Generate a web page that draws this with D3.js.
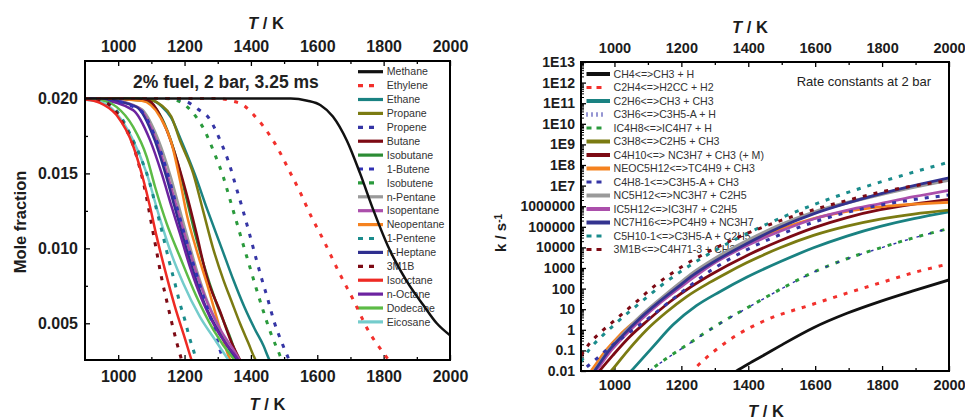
<!DOCTYPE html>
<html>
<head>
<meta charset="utf-8">
<script src="https://cdn.jsdelivr.net/npm/d3@7"></script>
<style>
  body { margin: 0; background: #fff; }
  svg { display: block; font-family: "Liberation Sans", Arial, Helvetica, sans-serif; white-space: pre; }
</style>
</head>
<body>
<svg id="chart" width="965" height="418"></svg>
<script>
// ---------- Left panel: fuel mole fraction vs. temperature ----------
const fuelNames = ["Methane", "Ethylene", "Ethane", "Propane", "Propene", "Butane", "Isobutane",
  "1-Butene", "Isobutene", "n-Pentane", "Isopentane", "Neopentane", "1-Pentene", "n-Heptane",
  "3M1B", "Isooctane", "n-Octane", "Dodecane", "Eicosane"];

// [T / K, mole fraction]
const methane    = [[900,.0200],[1520,.0200],[1570,.01985],[1610,.01955],[1647,.0188],[1689,.0172],[1729,.0150],[1770,.0125],[1816,.0100],[1870,.0078],[1920,.0062],[1960,.0050],[2000,.0042]];
const ethylene   = [[900,.0200],[1300,.0200],[1342,.01984],[1377,.01956],[1409,.01889],[1437,.01816],[1481,.01667],[1516,.01516],[1550,.01367],[1581,.01216],[1616,.01067],[1666,.00838],[1710,.0065],[1753,.00455],[1800,.0030],[1820,.0024]];
const ethane     = [[900,.0200],[1060,.0200],[1100,.0199],[1130,.0195],[1160,.0187],[1188,.0173],[1230,.0150],[1270,.0125],[1312,.0100],[1347,.0079],[1380,.0061],[1412,.0046],[1438,.0035],[1455,.0026],[1463,.0023]];
const propane    = [[900,.0200],[1060,.0200],[1100,.0199],[1130,.01955],[1160,.0188],[1186,.0172],[1226,.0150],[1256,.0125],[1286,.0100],[1317,.0079],[1341,.0065],[1367,.0050],[1392,.0037],[1413,.0026],[1421,.0023]];
const propene    = [[900,.0200],[1170,.0200],[1208,.01978],[1240,.0193],[1274,.01867],[1309,.01711],[1335,.01562],[1355,.01411],[1375,.01262],[1394,.01111],[1412,.00962],[1430,.00816],[1450,.00667],[1470,.00511],[1496,.00356],[1510,.00282],[1518,.0024]];
const butane     = [[900,.0200],[945,.0200],[1086,.01989],[1146,.01789],[1186,.01522],[1211,.01322],[1236,.0110],[1267,.0081],[1307,.0058],[1340,.0038],[1367,.00256],[1375,.0022]];
const isobutane  = [[900,.0200],[945,.0200],[1080,.01985],[1140,.0183],[1178,.0158],[1203,.0136],[1228,.0113],[1258,.0089],[1295,.0064],[1335,.0042],[1360,.0027],[1368,.0023]];
const butene1    = [[900,.0200],[945,.01998],[1066,.01922],[1111,.01744],[1146,.01522],[1171,.01322],[1196,.01122],[1226,.0090],[1257,.00678],[1287,.00478],[1307,.00322],[1317,.00256],[1322,.0022]];
const isobutene  = [[900,.0200],[1140,.0200],[1174,.01989],[1208,.01944],[1238,.01867],[1259,.01793],[1275,.01716],[1289,.0164],[1302,.01567],[1315,.01489],[1335,.0134],[1355,.01189],[1375,.01038],[1395,.00889],[1415,.0074],[1437,.00584],[1460,.00433],[1488,.00282],[1495,.0024]];
const nPentane   = [[900,.0200],[970,.01995],[1070,.0193],[1122,.0172],[1158,.0148],[1183,.0128],[1208,.0108],[1236,.0086],[1270,.0064],[1305,.0047],[1350,.0027],[1360,.0023]];
const isopentane = [[900,.0200],[960,.01995],[1060,.0194],[1115,.0172],[1150,.0148],[1176,.0128],[1202,.0108],[1232,.0086],[1268,.0064],[1305,.0047],[1365,.0026],[1372,.0023]];
const neopentane = [[900,.0200],[945,.0200],[1071,.01984],[1126,.01878],[1161,.0170],[1186,.01456],[1206,.01233],[1236,.00989],[1267,.00767],[1302,.0050],[1337,.00256],[1345,.0022]];
const pentene1   = [[900,.0200],[945,.01989],[1005,.01889],[1040,.01744],[1073,.01578],[1094,.01444],[1111,.0130],[1131,.01122],[1154,.00911],[1171,.00767],[1186,.00633],[1201,.00522],[1214,.00411],[1231,.00289],[1237,.0024]];
const nHeptane   = [[900,.0200],[955,.01995],[1055,.01944],[1110,.01722],[1145,.01478],[1170,.01278],[1195,.01078],[1225,.00856],[1260,.00633],[1300,.00456],[1355,.00256],[1365,.0022]];
const m3b1       = [[900,.0200],[945,.01989],[985,.01933],[1020,.01811],[1045,.01689],[1060,.01578],[1073,.01467],[1085,.01344],[1100,.01167],[1115,.00989],[1130,.00811],[1148,.00633],[1162,.0050],[1177,.00367],[1191,.00256],[1198,.0020]];
const isooctane  = [[900,.01993],[945,.01971],[995,.01889],[1046,.01678],[1076,.01456],[1096,.01278],[1116,.01078],[1141,.00856],[1171,.00611],[1201,.0040],[1221,.00256],[1230,.0020]];
const nOctane    = [[900,.01998],[945,.01993],[1045,.01922],[1096,.01722],[1131,.0150],[1161,.01278],[1186,.0110],[1216,.00878],[1257,.00633],[1297,.00456],[1362,.00256],[1370,.0023]];
const dodecane   = [[900,.01996],[945,.01989],[995,.01944],[1045,.01811],[1086,.01611],[1111,.01411],[1146,.01167],[1186,.00944],[1236,.00678],[1287,.00456],[1350,.00256],[1360,.0023]];
const eicosane   = [[900,.01992],[945,.01978],[995,.0190],[1040,.01744],[1086,.0150],[1121,.01233],[1156,.00989],[1196,.00767],[1246,.00544],[1292,.00389],[1332,.00256],[1340,.0023]];

const fuelSeries = [methane, ethylene, ethane, propane, propene, butane, isobutane, butene1, isobutene,
  nPentane, isopentane, neopentane, pentene1, nHeptane, m3b1, isooctane, nOctane, dodecane, eicosane];

const fractionTicks = [0.005, 0.010, 0.015, 0.020];
const fractionTickLabels = ["0.005", "0.010", "0.015", "0.020"];
const fractionMinorTicks = [0.0075, 0.0125, 0.0175];
const tempTicks = [1000, 1200, 1400, 1600, 1800, 2000];
const tempTickLabels = ["1000", "1200", "1400", "1600", "1800", "2000"];
const tempMinorTicks = [1100, 1300, 1500, 1700, 1900];

// ---------- Right panel: rate constants at 2 bar ----------
const reactionNames = ["CH4<=>CH3 + H", "C2H4<=>H2CC + H2", "C2H6<=>CH3 + CH3", "C3H6<=>C3H5-A + H",
  "IC4H8<=>IC4H7 + H", "C3H8<=>C2H5 + CH3", "C4H10<=> NC3H7 + CH3 (+ M)", "NEOC5H12<=>TC4H9 + CH3",
  "C4H8-1<=>C3H5-A  + CH3", "NC5H12<=>NC3H7 + C2H5", "IC5H12<=>IC3H7 + C2H5", "NC7H16<=>PC4H9 + NC3H7",
  "C5H10-1<=>C3H5-A + C2H5", "3M1B<=>C4H71-3 + CH3"];

// [T / K, k / s^-1]
const kCH4     = [[1355,0.0079],[1365,0.01],[1400,0.0219],[1450,0.0631],[1495,0.166],[1595,1.26],[1695,6.31],[1795,24],[1895,79.4],[2000,263]];
const kC2H4    = [[1225,0.0071],[1235,0.0107],[1295,0.083],[1365,0.54],[1445,2.6],[1595,17.8],[1695,60],[1805,214],[1900,630],[2000,1580]];
const kC2H6    = [[1040,0.0066],[1050,0.01],[1115,0.148],[1175,1.74],[1245,14.8],[1315,70.8],[1395,355],[1495,2000],[1595,9550],[1695,35500],[1795,105000],[1895,251000],[2000,537000]];
const kC3H6    = [[1095,0.0071],[1105,0.0098],[1155,0.039],[1215,0.172],[1275,0.77],[1335,3.1],[1395,11],[1455,39],[1505,110],[1595,620],[1695,2750],[1795,9300],[1895,29000],[2000,82000]];
const kIC4H8   = [[1095,0.0071],[1105,0.01],[1155,0.04],[1215,0.178],[1275,0.79],[1335,3.2],[1395,11.2],[1455,40],[1505,112],[1595,630],[1695,2820],[1795,9550],[1895,29500],[2000,83000]];
const kC3H8    = [[980,0.0066],[990,0.01],[1045,0.123],[1095,0.955],[1155,7.08],[1215,39.8],[1285,200],[1335,562],[1395,1780],[1495,9550],[1595,38000],[1695,107000],[1795,234000],[1895,417000],[2000,646000]];
const kC4H10   = [[945,0.0066],[955,0.01],[995,0.0575],[1045,0.447],[1100,2.9],[1165,22.4],[1230,126],[1285,447],[1395,3980],[1495,20900],[1595,89100],[1695,282000],[1795,676000],[1895,1.26e6],[2000,2.14e6]];
const kNEOC5H12= [[920,0.0063],[930,0.01],[975,0.102],[1015,0.537],[1065,2.9],[1125,20],[1195,158],[1220,316],[1295,2240],[1395,15800],[1495,75900],[1595,251000],[1695,562000],[1795,933000],[1895,1.26e6],[2000,1.55e6]];
const kC4H81   = [[895,0.0063],[905,0.01],[940,0.0316],[975,0.1],[1010,0.282],[1045,0.76],[1085,2.24],[1135,9.55],[1195,56.2],[1295,891],[1395,7590],[1495,41700],[1595,166000],[1695,501000],[1795,1.12e6],[1895,2.09e6],[2000,3.47e6]];
const kNC5H12  = [[930,0.0063],[940,0.01],[980,0.089],[1025,0.6],[1075,4.0],[1135,28.2],[1195,178],[1235,575],[1295,2510],[1395,20000],[1495,120000],[1595,501000],[1695,1.48e6],[1795,3.72e6],[1895,8.51e6],[2000,1.9e7]];
const kIC5H12  = [[935,0.0063],[945,0.01],[985,0.079],[1030,0.5],[1080,3.16],[1140,22.4],[1200,126],[1240,380],[1295,1580],[1395,12000],[1495,60300],[1595,240000],[1695,631000],[1795,1.35e6],[1895,2.88e6],[2000,5.89e6]];
const kNC7H16  = [[930,0.0063],[940,0.01],[980,0.083],[1025,0.537],[1075,3.47],[1135,24],[1195,141],[1235,447],[1295,1900],[1395,15100],[1495,95500],[1595,427000],[1695,1.41e6],[1795,3.98e6],[1895,1e7],[2000,2.4e7]];
const kC5H101  = [[900,0.0282],[925,0.112],[960,0.447],[995,1.51],[1030,4.79],[1065,14.1],[1100,41.7],[1140,141],[1200,708],[1300,7080],[1400,50100],[1500,282000],[1600,1.26e6],[1700,4.79e6],[1800,1.58e7],[1900,4.79e7],[2000,1.38e8]];
const k3M1B    = [[900,0.0562],[925,0.214],[960,0.794],[995,2.4],[1030,7.4],[1065,22.4],[1095,61.7],[1125,158],[1200,1120],[1300,8910],[1400,50100],[1500,209000],[1600,708000],[1700,2e6],[1800,5.01e6],[1900,1e7],[2000,1.78e7]];

const reactionSeries = [kCH4, kC2H4, kC2H6, kC3H6, kIC4H8, kC3H8, kC4H10, kNEOC5H12, kC4H81,
  kNC5H12, kIC5H12, kNC7H16, kC5H101, k3M1B];

const rateTicks = [1e13, 1e12, 1e11, 1e10, 1e9, 1e8, 1e7, 1e6, 1e5, 1e4, 1e3, 100, 10, 1, 0.1, 0.01];
const rateTickLabels = ["1E13", "1E12", "1E11", "1E10", "1E9", "1E8", "1E7", "1000000", "100000",
  "10000", "1000", "100", "10", "1", "0.1", "0.01"];

// ---------- styles ----------
const fuelColors = ["#111111", "#f2302c", "#1a8282", "#7b7b12", "#3535a5", "#7d0a14", "#2c8c34",
  "#3232b4", "#2a9a3c", "#9a9a9a", "#ab4fab", "#f5821f", "#1a8c8c", "#2f2f8f", "#7d0a14",
  "#ee2a24", "#6c23a0", "#5cbb46", "#74cccc"];
const fuelDotted = [false, true, false, false, true, false, false, true, true, false, false, false,
  true, false, true, false, false, false, false];
const reactionColors = ["#111111", "#f2302c", "#1a8282", "#2f2fa8", "#2a9a3c", "#7b7b12", "#7d0a14",
  "#f5821f", "#3535a5", "#9a9a9a", "#ab4fab", "#33338f", "#1a8c8c", "#7d0a14"];
const reactionLine = ["solid", "dot", "solid", "fine", "dot", "solid", "solid", "solid", "dot",
  "solid", "solid", "solid", "dot", "dot"];

const svg = d3.select("#chart");
const defs = svg.append("defs");
const ink = "#1c1c1c";

function addClip(id, x0, y0, x1, y1) {
  defs.append("clipPath").attr("id", id).append("rect")
    .attr("x", x0).attr("y", y0).attr("width", x1 - x0).attr("height", y1 - y0);
}

function styleAxis(g, size) {
  g.select(".domain").remove();
  g.selectAll("line").attr("stroke", "#000").attr("stroke-width", 1.3);
  g.selectAll("text").attr("fill", ink).style("font-size", size + "px").style("font-weight", "bold")
    .attr("font-family", null);
}

function axisTitleT(x, y, size) {
  const t = svg.append("text").attr("x", x).attr("y", y).attr("text-anchor", "middle")
    .attr("fill", ink).style("font-size", size + "px").style("font-weight", "bold");
  t.append("tspan").style("font-style", "italic").text("T");
  t.append("tspan").text(" / K");
}

// ===== Left panel =====
const L = { x0: 85, x1: 450, y0: 61, y1: 360 };
const xL = d3.scaleLinear().domain([900, 2000]).range([L.x0, L.x1]);
const yL = d3.scaleLinear().domain([0.00255, 0.0225]).range([L.y1, L.y0]);
addClip("clipL", L.x0, L.y0, L.x1, L.y1);

const tlab = (d, i) => tempTickLabels[i];
const gLb = svg.append("g").attr("transform", `translate(0,${L.y1})`)
  .call(d3.axisBottom(xL).tickValues(tempTicks).tickFormat(tlab).tickSize(-5).tickPadding(10.5));
styleAxis(gLb, 16);
const gLt = svg.append("g").attr("transform", `translate(0,${L.y0})`)
  .call(d3.axisTop(xL).tickValues(tempTicks).tickFormat(tlab).tickSize(-5).tickPadding(9));
styleAxis(gLt, 16);
[L.y1, L.y0].forEach((yy, k) => {
  const ax = k === 0 ? d3.axisBottom(xL) : d3.axisTop(xL);
  const g = svg.append("g").attr("transform", `translate(0,${yy})`)
    .call(ax.tickValues(tempMinorTicks).tickFormat("").tickSize(-3));
  styleAxis(g, 16);
});
const gLy = svg.append("g").attr("transform", `translate(${L.x0},0)`)
  .call(d3.axisLeft(yL).tickValues(fractionTicks).tickFormat((d, i) => fractionTickLabels[i]).tickSize(-5).tickPadding(7));
styleAxis(gLy, 16);
const gLym = svg.append("g").attr("transform", `translate(${L.x0},0)`)
  .call(d3.axisLeft(yL).tickValues(fractionMinorTicks).tickFormat("").tickSize(-3));
styleAxis(gLym, 16);

axisTitleT(266, 28.5, 16.5);
axisTitleT(267.5, 410, 16.5);
svg.append("text").attr("transform", "translate(25.5,222) rotate(-90)").attr("text-anchor", "middle")
  .attr("fill", ink).style("font-size", "16.5px").style("font-weight", "bold").text("Mole fraction");

svg.append("text").attr("x", 133).attr("y", 88).attr("fill", "#222")
  .style("font-size", "17.5px").style("font-weight", "bold").text("2% fuel, 2 bar, 3.25 ms");

// legend (drawn under the curves)
const legL = svg.append("g");
fuelNames.forEach((name, i) => {
  const y = 71.7 + i * 13.9;
  legL.append("line").attr("x1", 358).attr("x2", fuelDotted[i] ? 374 : 383).attr("y1", y).attr("y2", y)
    .attr("stroke", fuelColors[i]).attr("stroke-width", 3.2)
    .attr("stroke-dasharray", fuelDotted[i] ? "5,6" : null);
  legL.append("text").attr("x", 386.7).attr("y", y).attr("dy", "0.35em").attr("fill", "#333")
    .style("font-size", "10.6px").text(name);
});

const lineL = d3.line().x(d => xL(d[0])).y(d => yL(d[1])).curve(d3.curveMonotoneX);
const curvesL = svg.append("g").attr("clip-path", "url(#clipL)");
const orderL = [2, 3, 6, 5, 11, 9, 10, 13, 16, 7, 17, 18, 12, 14, 15, 8, 4, 1, 0];
orderL.forEach(i => {
  curvesL.append("path").attr("d", lineL(fuelSeries[i])).attr("fill", "none")
    .attr("stroke", fuelColors[i]).attr("stroke-width", fuelDotted[i] ? 3 : 2.5)
    .attr("stroke-dasharray", fuelDotted[i] ? "4,7.5" : null);
});

svg.append("rect").attr("x", L.x0).attr("y", L.y0).attr("width", L.x1 - L.x0).attr("height", L.y1 - L.y0)
  .attr("fill", "none").attr("stroke", "#000").attr("stroke-width", 2);

// ===== Right panel =====
const R = { x0: 581, x1: 949, y0: 62, y1: 371 };
const xR = d3.scaleLinear().domain([900, 2000]).range([R.x0, R.x1]);
const yR = d3.scaleLog().domain([0.01, 1e13]).range([R.y1, R.y0]);
addClip("clipR", R.x0, R.y0, R.x1, R.y1);

const gRb = svg.append("g").attr("transform", `translate(0,${R.y1})`)
  .call(d3.axisBottom(xR).tickValues(tempTicks).tickFormat(tlab).tickSize(-5).tickPadding(8.7));
styleAxis(gRb, 14.5);
const gRt = svg.append("g").attr("transform", `translate(0,${R.y0})`)
  .call(d3.axisTop(xR).tickValues(tempTicks).tickFormat(tlab).tickSize(-5).tickPadding(9));
styleAxis(gRt, 14.5);
[R.y1, R.y0].forEach((yy, k) => {
  const ax = k === 0 ? d3.axisBottom(xR) : d3.axisTop(xR);
  const g = svg.append("g").attr("transform", `translate(0,${yy})`)
    .call(ax.tickValues(tempMinorTicks).tickFormat("").tickSize(-3));
  styleAxis(g, 14.5);
});
const gRy = svg.append("g").attr("transform", `translate(${R.x0},0)`)
  .call(d3.axisLeft(yR).tickValues(rateTicks).tickFormat((d, i) => rateTickLabels[i]).tickSize(-5).tickPadding(6));
styleAxis(gRy, 14);
const rateMinor = [];
rateTicks.slice(1).forEach(dec => { for (let m = 2; m <= 9; m++) rateMinor.push(dec * m); });
const gRym = svg.append("g").attr("transform", `translate(${R.x0},0)`)
  .call(d3.axisLeft(yR).tickValues(rateMinor).tickFormat("").tickSize(-3));
styleAxis(gRym, 14);
gRym.selectAll("line").attr("stroke-width", 1);

axisTitleT(750, 33, 16.5);
axisTitleT(766, 416.5, 16.5);
const ky = svg.append("text").attr("transform", "translate(506,233) rotate(-90)").attr("text-anchor", "middle")
  .attr("fill", ink).style("font-size", "15px").style("font-weight", "bold");
ky.append("tspan").text("k / s");
ky.append("tspan").attr("dy", "-0.45em").style("font-size", "10px").text("-1");

svg.append("text").attr("x", 796.7).attr("y", 86).attr("fill", "#222")
  .style("font-size", "13px").text("Rate constants at 2 bar");

const legR = svg.append("g");
reactionNames.forEach((name, i) => {
  const y = 74 + i * 13.5;
  const st = reactionLine[i];
  legR.append("line").attr("x1", 586.5).attr("x2", st === "solid" ? 610 : 603).attr("y1", y).attr("y2", y)
    .attr("stroke", reactionColors[i]).attr("stroke-width", st === "solid" ? 4 : (st === "fine" ? 4.5 : 3.2))
    .attr("stroke-dasharray", st === "dot" ? "5,5" : (st === "fine" ? "1,4" : null));
  legR.append("text").attr("x", 613.5).attr("y", y).attr("dy", "0.35em").attr("fill", "#333")
    .style("font-size", "10.6px").text(name);
});

const lineR = d3.line().x(d => xR(d[0])).y(d => yR(d[1])).curve(d3.curveMonotoneX);
const curvesR = svg.append("g").attr("clip-path", "url(#clipR)");
const orderR = [0, 1, 2, 5, 4, 3, 6, 7, 9, 10, 8, 11, 12, 13];
orderR.forEach(i => {
  const st = reactionLine[i];
  curvesR.append("path").attr("d", lineR(reactionSeries[i])).attr("fill", "none")
    .attr("stroke", reactionColors[i])
    .attr("stroke-width", st === "solid" ? (i === 9 ? 3.6 : 2.8) : (st === "fine" ? 1.4 : 3))
    .attr("stroke-dasharray", st === "dot" ? "4,7" : (st === "fine" ? "3,9" : null))
    .attr("stroke-dashoffset", st === "fine" ? -5 : 0);
});

svg.append("rect").attr("x", R.x0).attr("y", R.y0).attr("width", R.x1 - R.x0).attr("height", R.y1 - R.y0)
  .attr("fill", "none").attr("stroke", "#000").attr("stroke-width", 2);
</script>
</body>
</html>
